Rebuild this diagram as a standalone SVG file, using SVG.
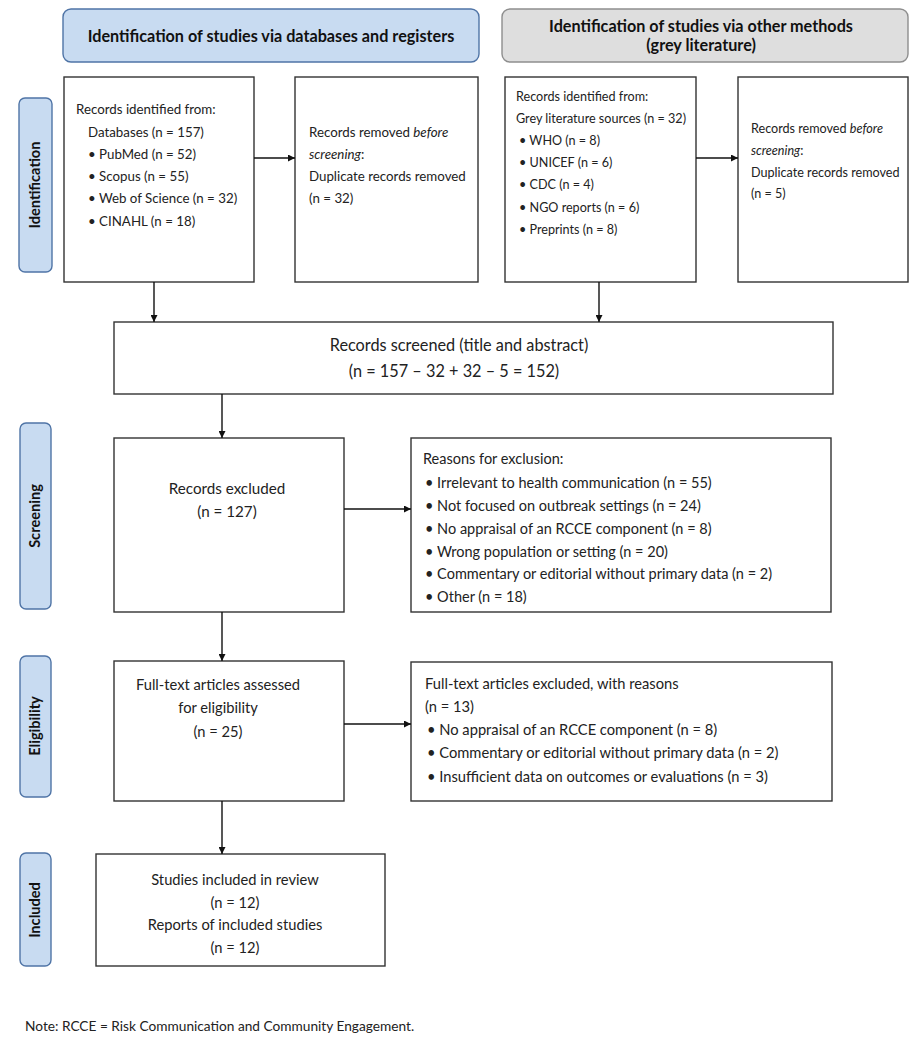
<svg xmlns="http://www.w3.org/2000/svg" width="924" height="1042" viewBox="0 0 924 1042">
<defs>
<style>
.box{fill:#fff;stroke:#333;stroke-width:1.4}
.hdr1{fill:#c8dbf1;stroke:#4f74a6;stroke-width:1.4}
.hdr2{fill:#dedede;stroke:#8e8e8e;stroke-width:1.4}
.side{fill:#c8dbf1;stroke:#4f74a6;stroke-width:1.4}
.t{font-family:Lato,"Liberation Sans",sans-serif;font-size:13.3px;fill:#222}
.s{font-family:Lato,"Liberation Sans",sans-serif;font-size:12.6px;fill:#222}
.m{font-family:Lato,"Liberation Sans",sans-serif;font-size:14.7px;fill:#222}
.r{font-family:Lato,"Liberation Sans",sans-serif;font-size:14.5px;fill:#222}
.x{font-family:Lato,"Liberation Sans",sans-serif;font-size:15.2px;fill:#222}
.big{font-family:Lato,"Liberation Sans",sans-serif;font-size:16.3px;fill:#222}
.note{font-family:Lato,"Liberation Sans",sans-serif;font-size:13.7px;fill:#222}
.c{text-anchor:middle}
.b{font-family:Lato,"Liberation Sans",sans-serif;font-weight:bold;font-size:16.2px;fill:#111;text-anchor:middle}
.lab{font-family:Lato,"Liberation Sans",sans-serif;font-weight:bold;font-size:14.6px;fill:#111;text-anchor:middle}
.ln{stroke:#111;stroke-width:1.4;fill:none;marker-end:url(#ah)}
</style>
<marker id="ah" viewBox="0 0 10 10" refX="10" refY="5" markerWidth="7" markerHeight="7" markerUnits="userSpaceOnUse" orient="auto">
<path d="M0,0 L10,5 L0,10 z" fill="#111"/>
</marker>
</defs>
<rect width="924" height="1042" fill="#fff"/>

<g id="header-databases">
<rect class="hdr1" x="63" y="9" width="416" height="53" rx="8"/>
<text class="b" x="271" y="42">Identification of studies via databases and registers</text>
</g>
<g id="header-other">
<rect class="hdr2" x="502" y="9" width="406" height="53" rx="8"/>
<text class="b" x="701" y="32">Identification of studies via other methods</text>
<text class="b" x="701" y="51">(grey literature)</text>
</g>

<g id="side-identification">
<rect class="side" x="19" y="98" width="33" height="174" rx="6"/>
<text class="lab" transform="translate(40,185) rotate(-90)">Identification</text>
</g>
<g id="side-screening">
<rect class="side" x="20" y="423" width="31" height="186" rx="6"/>
<text class="lab" transform="translate(40,516) rotate(-90)">Screening</text>
</g>
<g id="side-eligibility">
<rect class="side" x="20" y="656" width="31" height="141" rx="6"/>
<text class="lab" transform="translate(40,726) rotate(-90)">Eligibility</text>
</g>
<g id="side-included">
<rect class="side" x="20" y="853" width="31" height="113" rx="6"/>
<text class="lab" transform="translate(40,910) rotate(-90)">Included</text>
</g>

<g id="db-identified">
<rect class="box" x="64" y="77" width="190" height="205"/>
<text class="t" x="76" y="114">Records identified from:</text>
<text class="t" x="88" y="137">Databases (n = 157)</text>
<text class="t" x="88" y="159">• PubMed (n = 52)</text>
<text class="t" x="88" y="181">• Scopus (n = 55)</text>
<text class="t" x="88" y="203">• Web of Science (n = 32)</text>
<text class="t" x="88" y="226">• CINAHL (n = 18)</text>
</g>
<g id="db-removed">
<rect class="box" x="295" y="77" width="183" height="205"/>
<text class="t" x="309" y="137">Records removed <tspan font-style="italic">before</tspan></text>
<text class="t" x="309" y="159"><tspan font-style="italic">screening</tspan>:</text>
<text class="t" x="309" y="181">Duplicate records removed</text>
<text class="t" x="309" y="203">(n = 32)</text>
</g>
<g id="grey-identified">
<rect class="box" x="505" y="77" width="191" height="205"/>
<text class="s" x="516" y="101">Records identified from:</text>
<text class="s" x="516" y="123">Grey literature sources (n = 32)</text>
<text class="s" x="519" y="145">• WHO (n = 8)</text>
<text class="s" x="519" y="167">• UNICEF (n = 6)</text>
<text class="s" x="519" y="189">• CDC (n = 4)</text>
<text class="s" x="519" y="212">• NGO reports (n = 6)</text>
<text class="s" x="519" y="234">• Preprints (n = 8)</text>
</g>
<g id="grey-removed">
<rect class="box" x="738" y="77" width="170" height="205"/>
<text class="s" x="751" y="133">Records removed <tspan font-style="italic">before</tspan></text>
<text class="s" x="751" y="155"><tspan font-style="italic">screening</tspan>:</text>
<text class="s" x="751" y="177">Duplicate records removed</text>
<text class="s" x="751" y="198">(n = 5)</text>
</g>

<g id="screened">
<rect class="box" x="114" y="322" width="719" height="72"/>
<text class="big c" x="459" y="351">Records screened (title and abstract)</text>
<text class="big c" x="454" y="377">(n = 157 – 32 + 32 – 5 = 152)</text>
</g>

<g id="excluded">
<rect class="box" x="114" y="438" width="230" height="174"/>
<text class="x c" x="227" y="494">Records excluded</text>
<text class="x c" x="227" y="517">(n = 127)</text>
</g>
<g id="exclusion-reasons">
<rect class="box" x="411" y="438" width="420" height="174"/>
<text class="r" x="423" y="464">Reasons for exclusion:</text>
<text class="r" x="425" y="488">• Irrelevant to health communication (n = 55)</text>
<text class="r" x="425" y="511">• Not focused on outbreak settings (n = 24)</text>
<text class="r" x="425" y="534">• No appraisal of an RCCE component (n = 8)</text>
<text class="r" x="425" y="557">• Wrong population or setting (n = 20)</text>
<text class="r" x="425" y="579">• Commentary or editorial without primary data (n = 2)</text>
<text class="r" x="425" y="602">• Other (n = 18)</text>
</g>

<g id="fulltext">
<rect class="box" x="114" y="661" width="230" height="140"/>
<text class="m c" x="218" y="690">Full-text articles assessed</text>
<text class="m c" x="218" y="713">for eligibility</text>
<text class="m c" x="218" y="737">(n = 25)</text>
</g>
<g id="fulltext-excluded">
<rect class="box" x="411" y="662" width="421" height="139"/>
<text class="m" x="425" y="689">Full-text articles excluded, with reasons</text>
<text class="m" x="425" y="712">(n = 13)</text>
<text class="m" x="427" y="735">• No appraisal of an RCCE component (n = 8)</text>
<text class="m" x="427" y="758">• Commentary or editorial without primary data (n = 2)</text>
<text class="m" x="427" y="782">• Insufficient data on outcomes or evaluations (n = 3)</text>
</g>

<g id="included">
<rect class="box" x="96" y="854" width="289" height="112"/>
<text class="m c" x="235" y="885">Studies included in review</text>
<text class="m c" x="235" y="908">(n = 12)</text>
<text class="m c" x="235" y="930">Reports of included studies</text>
<text class="m c" x="235" y="953">(n = 12)</text>
</g>

<g id="connectors">
<line class="ln" x1="254" y1="158" x2="295" y2="158"/>
<line class="ln" x1="696" y1="158" x2="738" y2="158"/>
<line class="ln" x1="154" y1="282" x2="154" y2="322"/>
<line class="ln" x1="599" y1="282" x2="599" y2="322"/>
<line class="ln" x1="222" y1="394" x2="222" y2="438"/>
<line class="ln" x1="344" y1="509" x2="411" y2="509"/>
<line class="ln" x1="222" y1="612" x2="222" y2="661"/>
<line class="ln" x1="344" y1="724" x2="411" y2="724"/>
<line class="ln" x1="222" y1="801" x2="222" y2="854"/>
</g>

<text class="note" x="25" y="1031">Note: RCCE = Risk Communication and Community Engagement.</text>
</svg>
